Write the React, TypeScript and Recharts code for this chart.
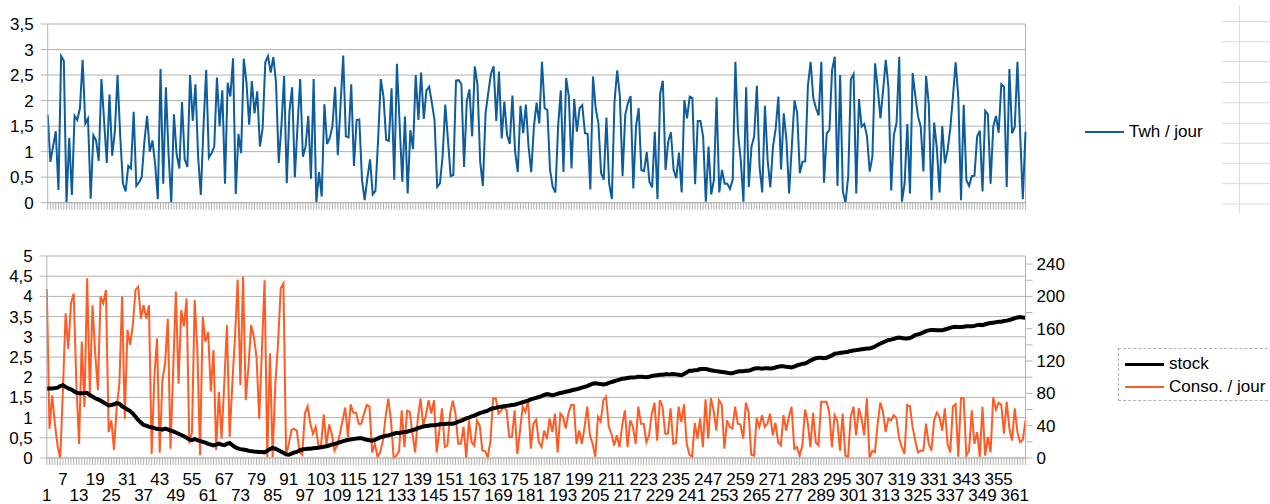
import React from "react";
import { CartesianGrid, Line, LineChart, ReferenceLine, XAxis, YAxis } from "recharts";

const FONT = '"Liberation Sans", Arial, sans-serif';
const GRID = "#b3b3b3";

// jours 1..365
const days = Array.from({ length: 365 }, (_, i) => i + 1);

// production (graphique du haut)
const twhParJour = [
  1.72, 0.8, 1.1, 1.4, 0.25, 2.87, 2.78, 0, 1.27, 0.15,
  1.7, 1.62, 1.85, 2.8, 1.55, 1.65, 0.08, 1.32, 1.22, 0.82,
  2.42, 1.6, 0.78, 2.12, 0.92, 1.4, 2.5, 1.3, 0.38, 0.22,
  0.72, 0.67, 1.78, 0.33, 0.4, 0.5, 1.2, 1.7, 1.0, 1.22,
  0.75, 0.07, 2.62, 0.37, 2.26, 0.95, 0, 1.73, 0.95, 0.67,
  1.97, 0.85, 0.7, 2.5, 1.6, 2.32, 0.9, 0.15, 1.5, 2.6,
  0.88, 0.97, 1.1, 2.45, 1.5, 2.2, 0.37, 2.35, 2.08, 2.83,
  0.17, 1.35, 0.97, 2.82, 2.35, 1.53, 2.38, 1.75, 2.18, 1.1,
  1.45, 2.75, 2.87, 2.55, 2.85, 2.35, 0.78, 1.5, 2.48, 0.38,
  1.8, 2.26, 0.5, 1.5, 2.42, 0.9, 1.1, 1.7, 0.47, 2.42,
  0, 0.6, 0.12, 1.93, 1.15, 1.27, 1.5, 2.27, 0.93, 1.9,
  2.88, 1.3, 1.28, 2.32, 0.72, 1.62, 1.63, 0.45, 0.05, 0.48,
  0.85, 0.16, 0.23, 1.23, 2.42, 2.08, 1.23, 1.21, 2.24, 0.45,
  2.72, 1.55, 0.41, 1.69, 0.18, 1.42, 1.05, 2.5, 1.62, 2.55,
  1.64, 2.2, 2.27, 1.96, 1.62, 0.31, 0.38, 0.9, 1.92, 1.23,
  0.52, 0.54, 2.39, 2.4, 2.32, 0.7, 1.98, 2.22, 1.3, 2.67,
  2.3, 0.8, 0.33, 1.75, 2.15, 2.52, 2.67, 1.6, 2.57, 1.26,
  1.98, 1.33, 1.15, 2.1, 1.0, 0.6, 1.9, 1.36, 1.92, 1.1,
  0.6, 1.49, 1.96, 1.55, 2.76, 1.85, 1.82, 0.64, 0.31, 0.2,
  1.49, 2.2, 0.6, 2.44, 2.08, 0.67, 2.03, 1.39, 1.85, 1.91,
  1.36, 1.35, 0.26, 2.47, 1.85, 1.56, 0.58, 0.45, 1.67, 0.38,
  0.07, 1.98, 2.59, 2.08, 0.52, 1.72, 1.95, 2.09, 0.28, 1.49,
  1.85, 0.64, 0.62, 0.99, 0.41, 0.3, 1.39, 0.07, 2.14, 2.39,
  0.64, 1.2, 1.38, 0.64, 0.48, 0.98, 0.2, 2.01, 1.65, 2.08,
  2.05, 0.36, 1.6, 1.6, 1.29, 0.02, 1.1, 0.16, 0.44, 2.06,
  0.2, 0.64, 0.37, 0.37, 0.27, 0.45, 2.76, 1.36, 0.84, 0.02,
  2.26, 0.31, 1.1, 1.3, 2.29, 0.7, 0.2, 1.9, 0.84, 0.3,
  1.1, 1.45, 2.08, 0.65, 1.75, 1.23, 0.18, 1.1, 2.0, 1.76,
  0.58, 0.8, 0.81, 2.29, 2.76, 2.05, 1.85, 1.71, 2.76, 0.39,
  1.36, 1.42, 2.6, 2.86, 0.33, 2.5, 0.22, 0.0, 0.51, 2.42,
  2.52, 0.18, 2.03, 1.49, 1.54, 1.3, 0.61, 0.9, 2.73, 2.24,
  1.65, 2.21, 2.8, 2.24, 0.24, 1.33, 1.56, 2.86, 0.02, 0.38,
  1.54, 0.18, 2.54, 2.08, 1.69, 1.49, 0.61, 2.48, 1.92, 0.05,
  1.57, 1.07, 0.2, 1.5, 0.77, 1.03, 1.46, 2.08, 2.75, 2.05,
  0.05, 1.92, 0.44, 0.33, 0.52, 0.53, 1.3, 1.41, 0.22, 1.8,
  1.73, 0.37, 1.49, 1.7, 1.37, 2.32, 2.27, 0.31, 2.62, 1.36,
  1.48, 2.76, 1.36, 0.07, 1.39,
];

// consommation (axe de gauche)
const consoParJour = [
  4.18, 0.72, 1.55, 0.85, 0.3, 0.0, 1.7, 3.58, 2.7, 3.83,
  4.07, 1.84, 0.35, 2.88, 1.26, 4.45, 1.6, 3.78, 2.6, 1.68,
  4.0, 3.83, 4.16, 0.64, 0.93, 0.2, 1.26, 1.84, 4.0, 0.97,
  3.17, 2.8, 3.3, 4.16, 4.24, 3.45, 3.78, 3.45, 3.78, 0.1,
  2.0, 2.96, 0.13, 1.93, 2.34, 3.45, 0.23, 2.17, 4.12, 1.84,
  3.66, 3.26, 3.95, 0.36, 0.64, 3.91, 2.67, 0.07, 3.5, 2.88,
  3.12, 1.64, 2.67, 0.19, 1.64, 0.48, 1.84, 3.29, 0.52, 1.84,
  3.0, 4.42, 1.8, 4.49, 1.43, 2.26, 3.29, 3.0, 2.5, 0.97,
  2.67, 4.4, 0.02, 2.59, 0.02, 1.84, 2.83, 4.2, 4.32, 0.06,
  0.35, 0.7, 0.72, 0.68, 0.15, 0.08, 1.1, 1.28, 0.85, 0.6,
  0.77, 0.31, 0.31, 1.08, 0.31, 0.83, 0.6, 0.18, 0.31, 0.6,
  0.93, 1.25, 0.52, 1.33, 1.12, 1.12, 0.85, 0.85, 1.1, 1.31,
  1.27, 0.14, 0.35, 0.03, 0.14, 0.43, 1.02, 1.47, 0.93, 0.0,
  0.06, 0.17, 1.18, 0.27, 1.17, 1.14, 0.6, 0.14, 0.98, 1.47,
  0.81, 1.06, 1.43, 1.1, 1.43, 0.14, 0.68, 1.23, 0.27, 0.31,
  1.1, 1.42, 1.1, 0.35, 0.35, 0.77, 0.0, 0.93, 0.39, 0.31,
  0.93, 0.81, 0.18, 0.17, 0.02, 0.43, 1.47, 1.47, 1.1, 1.18,
  1.27, 1.18, 0.52, 0.52, 1.18, 0.1, 0.68, 1.27, 1.14, 1.43,
  0.23, 0.85, 0.95, 0.39, 0.27, 0.68, 0.47, 0.98, 0.64, 1.1,
  0.14, 1.1, 1.02, 0.73, 1.1, 1.31, 1.31, 0.35, 0.68, 0.35,
  0.77, 1.27, 0.56, 0.35, 0.03, 1.02, 0.9, 1.43, 1.52, 0.77,
  0.6, 0.31, 0.56, 0.27, 0.81, 1.18, 0.27, 0.93, 0.77, 0.35,
  1.27, 0.85, 0.85, 0.39, 0.56, 1.1, 1.37, 0.43, 1.43, 1.27,
  0.6, 0.6, 1.23, 0.35, 0.37, 1.27, 0.89, 1.33, 0.35, 0.08,
  0.03, 0.87, 0.48, 0.98, 0.27, 1.45, 0.48, 1.48, 1.18, 0.68,
  1.43, 1.33, 0.23, 0.93, 0.77, 0.73, 1.27, 0.85, 0.83, 0.48,
  1.37, 1.14, 0.08, 0.06, 0.98, 0.77, 1.06, 0.77, 0.85, 1.1,
  0.56, 0.87, 0.39, 0.31, 1.06, 0.68, 1.02, 1.27, 0.23, 0.27,
  0.06, 0.31, 1.2, 0.89, 0.27, 1.12, 0.39, 0.31, 1.39, 1.39,
  1.39, 1.14, 0.27, 1.06, 0.93, 0.18, 1.1, 0.06, 0.02, 1.02,
  1.27, 0.56, 1.23, 0.98, 0.56, 1.48, 0.0, 0.18, 0.14, 0.85,
  1.37, 1.14, 0.64, 0.98, 0.93, 1.06, 0.98, 0.48, 0.27, 0.1,
  1.31, 1.28, 0.77, 0.43, 0.14, 0.18, 0.18, 0.85, 0.35, 0.18,
  0.93, 1.12, 1.02, 0.68, 1.23, 0.35, 0.14, 1.27, 1.33, 0.03,
  1.48, 1.48, 0.06, 0.18, 1.18, 0.35, 0.64, 0.03, 1.27, 0.06,
  0.52, 0.14, 1.5, 1.2, 1.37, 1.31, 0.6, 1.39, 0.73, 0.43,
  1.23, 0.64, 0.39, 0.45, 0.93,
];

// stock (axe de droite)
const stock = [
  86, 86, 86, 86.5, 87, 89, 90, 88, 86, 85,
  83, 81, 80, 80, 80.5, 80.5, 78, 76, 74, 72.5,
  71, 69, 67, 65, 65.5, 66.5, 68, 67, 64, 62,
  60, 58, 55, 51, 47, 44, 41, 40, 38.5, 38,
  37, 36, 36, 35, 36.5, 35.5, 34, 33, 31.5, 30,
  28.5, 27, 25, 23, 22, 23.5, 22, 21, 20, 19,
  17.5, 16.5, 15.5, 16.5, 17.8, 16.5, 16, 17.5, 18.6, 16,
  13.5, 12, 11, 10.5, 10, 9, 8.5, 8, 7.8, 7.5,
  7.4, 7, 9, 11, 12.4, 11.5, 10, 8, 6.5, 4.5,
  4, 5.5, 6.8, 7.5, 9.5, 10.5, 11, 11.5, 11.5, 12,
  12.5, 12.8, 13.2, 14, 14.5, 15.5, 16.5, 17.3, 18.5, 19.5,
  20.5, 21.5, 22.5, 23, 23.5, 24, 24.5, 24.5, 23.5, 22.5,
  22, 21.5, 22.5, 24, 25.5, 26.5, 27.5, 28, 29, 30,
  31, 31, 31.5, 32, 32.5, 33.5, 34.5, 35.5, 37, 38,
  39, 39.5, 40, 40.5, 40.5, 41, 41.5, 42, 42, 42.5,
  42.5, 42.5, 43.5, 45, 46, 47.5, 49, 50, 51.5, 52.5,
  54, 55.5, 56.5, 57.5, 58.5, 60.5, 61.5, 62, 63, 63.5,
  64, 64.5, 65, 65.5, 66, 67, 68, 69, 70, 71,
  72.5, 73.5, 74.5, 75.5, 76.5, 78, 79, 78.5, 77.5, 78.5,
  79.5, 80.5, 81, 82, 82.5, 83.5, 84.5, 85, 86, 87,
  88, 89, 90.5, 92, 92.5, 92, 91.5, 91, 91.5, 93,
  94, 95, 96, 97, 98, 98.5, 99, 99.5, 99.6, 100,
  100.5, 100.5, 100.4, 100, 100.5, 101.5, 102, 102.5, 103, 103,
  103.5, 103.5, 103.7, 104, 103.5, 103, 102.5, 104, 106, 108,
  108, 108.5, 109, 110, 110, 110, 109.5, 108.5, 108, 107.5,
  107, 106.5, 106, 105.5, 105, 105, 106, 107, 107.5, 107.5,
  108, 108, 109, 110.5, 111, 111, 110.5, 111, 111, 110.7,
  111, 112, 113, 113.5, 113.5, 112.8, 112.5, 112, 113, 114.5,
  115.5, 116.5, 117, 118.5, 120.5, 122, 123.5, 124, 124, 123.5,
  124, 125.5, 127, 129, 129.5, 130, 130.5, 131, 131.5, 132.5,
  133, 133.5, 134, 134.5, 135, 135.5, 135.5, 136.5, 138, 140,
  141.7, 143, 144.5, 146, 146.5, 147.5, 148.5, 149, 148.5, 148,
  148, 148.5, 150, 152, 153, 154, 155.5, 157, 158, 158.5,
  158.5, 158, 158, 158, 159, 160, 161, 162, 162.5, 162,
  162, 162.5, 163, 163, 163, 163.5, 164.5, 165, 164.5, 165.5,
  166.5, 167, 167.5, 168, 168.5, 168.6, 169.5, 170, 170.7, 172,
  173, 174, 174.5, 174, 173.6,
];

const topTicks = [0, 0.5, 1, 1.5, 2, 2.5, 3, 3.5];
const leftTicks = [0, 0.5, 1, 1.5, 2, 2.5, 3, 3.5, 4, 4.5, 5];
const rightTicks = [0, 20, 40, 60, 80, 100, 120, 140, 160, 180, 200, 220, 240];

const topData = days.map((d, i) => ({ day: d, twh: twhParJour[i] }));
const bottomData = days.map((d, i) => ({
  day: d,
  conso: consoParJour[i],
  stock: stock[i],
}));

const frNum = (v: number) => String(v).replace(".", ",");

const NoTick = () => null;

// labels of the bottom axis, every 6 days on two staggered rows
function DayTick(props: any) {
  const { x, payload } = props;
  const v = payload.value;
  if ((v - 1) % 6 !== 0) return null;
  const lower = ((v - 1) / 6) % 2 === 0;
  return (
    <text x={x} y={lower ? 271 : 255} textAnchor="middle" fontSize={17} fontFamily={FONT} fill="#000">
      {v}
    </text>
  );
}

function RightTick(props: any) {
  const { x, y, payload } = props;
  if (payload.value % 40 !== 0) return null;
  return (
    <text x={x} y={y} dy={6} textAnchor="start" fontSize={17} fontFamily={FONT} fill="#000">
      {payload.value}
    </text>
  );
}

const tickStyle = { fontSize: 17, fill: "#000", fontFamily: FONT };

function SheetCells() {
  const rows = [21.7, 41.7, 61.7, 82.3, 102.7, 123.3, 143.3, 163.3, 183.7, 204];
  return (
    <svg width={60} height={220} style={{ position: "absolute", left: 1210, top: 0 }}>
      <line x1={29.3} y1={5} x2={29.3} y2={213} stroke="#d9d9d9" strokeWidth={1} />
      {rows.map((r) => (
        <line key={r} x1={11.7} y1={r} x2={60} y2={r} stroke="#d9d9d9" strokeWidth={1} />
      ))}
    </svg>
  );
}

export default function App() {
  return (
    <div
      style={{
        position: "absolute",
        left: 0,
        top: 0,
        width: 1270,
        height: 504,
        overflow: "hidden",
        background: "#fff",
        fontFamily: FONT,
      }}
    >
      <div style={{ position: "absolute", left: 0, top: 0 }}>
        <LineChart
          width={1270}
          height={230}
          data={topData}
          margin={{ top: 24, right: 244.5, bottom: 7.3, left: 0 }}
        >
          <CartesianGrid vertical={false} stroke={GRID} />
          <XAxis
            dataKey="day"
            interval={0}
            height={20}
            tick={NoTick}
            tickSize={7}
            tickLine={{ stroke: GRID }}
            axisLine={{ stroke: GRID }}
          />
          <YAxis
            width={47.7}
            domain={[0, 3.5]}
            ticks={topTicks}
            interval={0}
            tickFormatter={frNum}
            tick={tickStyle}
            tickSize={7}
            tickMargin={7}
            tickLine={{ stroke: GRID }}
            axisLine={{ stroke: GRID }}
          />
          <ReferenceLine x={365} stroke={GRID} />
          <Line
            type="linear"
            dataKey="twh"
            stroke="#0d5c9b"
            strokeWidth={2}
            dot={false}
            isAnimationActive={false}
          />
        </LineChart>
      </div>

      <div style={{ position: "absolute", left: 0, top: 230 }}>
        <LineChart
          width={1270}
          height={274}
          data={bottomData}
          margin={{ top: 26, right: 184.5, bottom: 0, left: 0 }}
        >
          <CartesianGrid vertical={false} stroke={GRID} yAxisId="left" />
          <XAxis
            dataKey="day"
            interval={0}
            height={46}
            tick={DayTick}
            tickSize={7}
            tickLine={{ stroke: GRID }}
            axisLine={{ stroke: GRID }}
          />
          <YAxis
            yAxisId="left"
            width={46.8}
            domain={[0, 5]}
            ticks={leftTicks}
            interval={0}
            tickFormatter={frNum}
            tick={tickStyle}
            tickSize={7}
            tickMargin={7}
            tickLine={{ stroke: GRID }}
            axisLine={{ stroke: GRID }}
          />
          <YAxis
            yAxisId="right"
            orientation="right"
            width={60}
            domain={[0, 250]}
            ticks={rightTicks}
            interval={0}
            tick={RightTick}
            tickSize={7}
            tickMargin={4}
            tickLine={{ stroke: GRID }}
            axisLine={{ stroke: GRID }}
          />
          <Line
            yAxisId="left"
            type="linear"
            dataKey="conso"
            stroke="#ff5b24"
            strokeWidth={2}
            dot={false}
            isAnimationActive={false}
          />
          <Line
            yAxisId="right"
            type="linear"
            dataKey="stock"
            stroke="#000"
            strokeWidth={4}
            dot={false}
            isAnimationActive={false}
          />
        </LineChart>
      </div>

      {/* top legend */}
      <div style={{ position: "absolute", left: 1085, top: 122, height: 20, display: "flex", alignItems: "center" }}>
        <div style={{ width: 39, height: 2, background: "#0d5c9b" }} />
        <span style={{ marginLeft: 5, fontSize: 17, lineHeight: "20px", color: "#000" }}>Twh / jour</span>
      </div>

      {/* bottom legend */}
      <div
        style={{
          position: "absolute",
          left: 1118,
          top: 348,
          width: 170,
          height: 53,
          border: "1px dashed #b3b3b3",
          boxSizing: "border-box",
        }}
      >
        <div style={{ position: "absolute", left: 6, top: 5, height: 20, display: "flex", alignItems: "center" }}>
          <div style={{ width: 39, height: 3, background: "#000" }} />
          <span style={{ marginLeft: 5, fontSize: 17, lineHeight: "20px", color: "#000" }}>stock</span>
        </div>
        <div style={{ position: "absolute", left: 6, top: 28, height: 20, display: "flex", alignItems: "center" }}>
          <div style={{ width: 39, height: 2, background: "#ff5b24" }} />
          <span style={{ marginLeft: 5, fontSize: 17, lineHeight: "20px", color: "#000" }}>Conso. / jour</span>
        </div>
      </div>

      <SheetCells />
    </div>
  );
}
